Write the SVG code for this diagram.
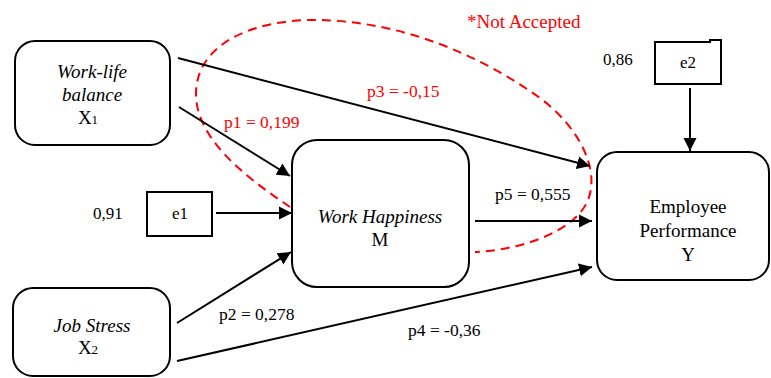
<svg xmlns="http://www.w3.org/2000/svg" width="771" height="378" viewBox="0 0 771 378">
<style>
text{font-family:'Liberation Serif','Times New Roman',Tinos,'DejaVu Serif',serif}
.box{fill:#fff;stroke:#000;stroke-width:2}
.t{font-size:19px;fill:#000;text-anchor:middle}
.i{font-style:italic}
.lab{font-size:17.5px;fill:#000}
.red{fill:#ff0000}
.con{stroke:#000;stroke-width:2;fill:none;marker-end:url(#ah)}
.sm{font-size:17px;fill:#000}
</style>
<defs>
<marker id="ah" markerUnits="userSpaceOnUse" markerWidth="14" markerHeight="14" refX="13" refY="6.5" orient="auto" viewBox="0 0 14 13">
<path d="M0,0 L13,6.5 L0,13 Z" fill="#000"/>
</marker>
</defs>
<rect width="771" height="378" fill="#fff"/>
<g id="ellipse">
<path d="M290,207 C250,180 195,140 196,93 C197,40 260,20 313,20 C400,20 480,55 540,98 C580,128 600,170 588,200 C575,232 520,250 475,252" fill="none" stroke="#ff0000" stroke-width="2" stroke-dasharray="9,6"/>
</g>
<g id="connectors">
<line class="con" x1="178" y1="58" x2="590" y2="166"/>
<line class="con" x1="179" y1="107" x2="290" y2="176"/>
<line class="con" x1="216" y1="213" x2="292" y2="213"/>
<line class="con" x1="177" y1="323" x2="291" y2="252"/>
<line class="con" x1="177" y1="361" x2="592" y2="267"/>
<line class="con" x1="475" y1="221" x2="592" y2="221"/>
<line class="con" x1="690" y1="88" x2="690" y2="151"/>
</g>
<g id="labels">
<text class="lab red" x="224" y="128">p1 = 0,199</text>
<text class="lab red" x="367" y="97">p3 = -0,15</text>
<text class="lab red" x="467" y="28" style="font-size:19px">*Not Accepted</text>
<text class="lab" x="495" y="200">p5 = 0,555</text>
<text class="lab" x="219" y="320">p2 = 0,278</text>
<text class="lab" x="408" y="336">p4 = -0,36</text>
</g>
<g id="node-x1">
<rect class="box" x="15" y="41" width="155" height="104" rx="20"/>
<text class="t i" x="92" y="78">Work-life</text>
<text class="t i" x="92" y="101">balance</text>
<text class="t" x="88" y="124">X<tspan font-size="13">1</tspan></text>
</g>
<g id="node-x2">
<rect class="box" x="13" y="288" width="157" height="88" rx="20"/>
<text class="t i" x="92" y="332">Job Stress</text>
<text class="t" x="88" y="354">X<tspan font-size="13">2</tspan></text>
</g>
<g id="node-m">
<rect class="box" x="292" y="140" width="177" height="147" rx="25"/>
<text class="t i" x="380" y="223">Work Happiness</text>
<text class="t" x="380" y="246">M</text>
</g>
<g id="node-y">
<rect class="box" x="597" y="152" width="172" height="128" rx="20"/>
<text class="t" x="688" y="213">Employee</text>
<text class="t" x="688" y="237">Performance</text>
<text class="t" x="688" y="261">Y</text>
</g>
<g id="node-e1">
<rect class="box" x="147" y="192" width="65" height="44"/>
<text class="sm" x="180" y="219" text-anchor="middle">e1</text>
<text class="sm" x="93" y="219">0,91</text>
</g>
<g id="node-e2">
<path d="M655,42 L710,42 L710,40 L721,40 L721,84 L655,84 Z" fill="#fff" stroke="#000" stroke-width="2"/>
<text class="sm" x="688" y="68" text-anchor="middle">e2</text>
<text class="sm" x="603" y="65">0,86</text>
</g>
</svg>
